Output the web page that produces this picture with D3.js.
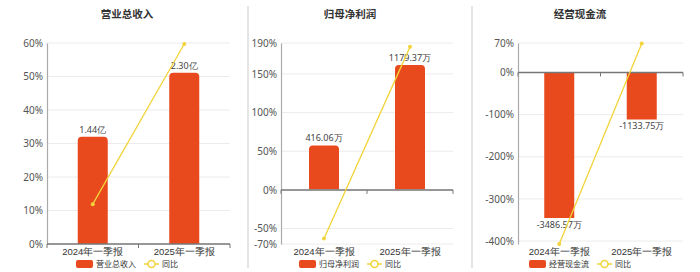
<!DOCTYPE html>
<html><head><meta charset="utf-8">
<script src="https://cdn.jsdelivr.net/npm/d3@7"></script>
<style>body{margin:0;background:#fff}svg{display:block;font-family:"Noto Sans CJK SC","Noto Sans",sans-serif}</style>
</head><body><svg id="c" width="700" height="272"></svg>
<script>
const categories = ["2024年一季报", "2025年一季报"];
const titles = ["营业总收入", "归母净利润", "经营现金流"];
const yoyName = "同比";

const revenueValues = [1.44, 2.30];
const revenueLabels = ["1.44亿", "2.30亿"];
const revenueYoY = [11.9, 59.7];
const revenueTicks = [0, 10, 20, 30, 40, 50, 60];

const profitValues = [416.06, 1179.37];
const profitLabels = ["416.06万", "1179.37万"];
const profitYoY = [-63, 185];
const profitTicks = [-70, -50, 0, 50, 100, 150, 190];

const cashValues = [-3486.57, -1133.75];
const cashLabels = ["-3486.57万", "-1133.75万"];
const cashYoY = [-407, 69];
const cashTicks = [-400, -300, -200, -100, 0, 70];

const BAR = "#E8491D", LINE = "#F2D43A";

const panels = [
  {title: titles[0], vals: revenueValues, labels: revenueLabels, yoy: revenueYoY, ticks: revenueTicks,
   yDom: [0, 60], bDom: [0, 2.70], x0: 47, x1: 230, cx: 127},
  {title: titles[1], vals: profitValues, labels: profitLabels, yoy: profitYoY, ticks: profitTicks,
   yDom: [-70, 190], bDom: [-519, 1387], x0: 281, x1: 453, cx: 350},
  {title: titles[2], vals: cashValues, labels: cashLabels, yoy: cashYoY, ticks: cashTicks,
   yDom: [-407, 70], bDom: [-4107, 692], x0: 518, x1: 683, cx: 580}
];
const plotTop = 43, plotBottom = 244;
const svg = d3.select("#c");

// separators
[248, 472].forEach(x => svg.append("line").attr("x1", x).attr("x2", x).attr("y1", 6).attr("y2", 268)
  .attr("stroke", "#ddd").attr("stroke-width", 1.5));

panels.forEach(p => {
  const g = svg.append("g");
  const y = d3.scaleLinear().domain(p.yDom).range([plotBottom, plotTop]);
  const yb = d3.scaleLinear().domain(p.bDom).range([plotBottom, plotTop]);
  const x = d3.scaleBand().domain(categories).range([p.x0, p.x1]);
  const bw = 30;

  g.append("text").attr("x", p.cx).attr("y", 18).attr("text-anchor", "middle")
    .attr("font-size", 10.5).attr("font-weight", "bold").attr("fill", "#333").text(p.title);

  // grid
  g.selectAll(".grid").data(p.ticks).enter().append("line")
    .attr("x1", p.x0).attr("x2", p.x1).attr("y1", d => y(d)).attr("y2", d => y(d))
    .attr("stroke", "#ececec").attr("stroke-width", 1);

  // y axis
  const ya = g.append("g").attr("transform", `translate(${p.x0},0)`)
    .call(d3.axisLeft(y).tickValues(p.ticks).tickSize(0).tickPadding(4).tickFormat(d => d + "%"));
  ya.select(".domain").attr("stroke", "#aaa").attr("stroke-width", 1.2);
  ya.selectAll("text").attr("font-size", 10).attr("fill", "#555").attr("font-family", "'Noto Sans',sans-serif");

  // bars
  const r = 4;
  p.vals.forEach((v, i) => {
    const xl = x(categories[i]) + (x.bandwidth() - bw) / 2;
    const y0 = yb(0), y1 = yb(v);
    let d;
    if (v >= 0) {
      d = `M${xl},${y0}V${y1 + r}Q${xl},${y1} ${xl + r},${y1}H${xl + bw - r}Q${xl + bw},${y1} ${xl + bw},${y1 + r}V${y0}Z`;
    } else {
      d = `M${xl},${y0}V${y1}H${xl + bw}V${y0}Z`;
    }
    g.append("path").attr("d", d).attr("fill", BAR);
    g.append("text").attr("x", xl + bw / 2).attr("y", v >= 0 ? y1 - 4 : y1 + 10)
      .attr("text-anchor", "middle").attr("font-size", 9).attr("fill", "#444")
      .attr("font-family", "'Noto Sans',sans-serif").text(p.labels[i]);
  });

  // x axis line at zero
  const y0 = y(Math.max(p.yDom[0], 0));
  g.append("line").attr("x1", p.x0).attr("x2", p.x1).attr("y1", y0).attr("y2", y0)
    .attr("stroke", "#777").attr("stroke-width", 1.5);
  const edges = [p.x0, p.x0 + x.step(), p.x1];
  g.selectAll(".tk").data(edges).enter().append("line")
    .attr("x1", d => d).attr("x2", d => d).attr("y1", y0).attr("y2", y0 + 4)
    .attr("stroke", "#777").attr("stroke-width", 1);
  const xa = g.append("g").attr("transform", `translate(0,${plotBottom})`)
    .call(d3.axisBottom(x).tickSize(0).tickPadding(4));
  xa.select(".domain").remove();
  xa.selectAll("text").attr("font-size", 9.5).attr("fill", "#333");

  // line
  const pts = p.yoy.map((v, i) => [x(categories[i]) + x.bandwidth() / 2, y(v)]);
  g.append("path").attr("d", d3.line()(pts)).attr("fill", "none").attr("stroke", LINE).attr("stroke-width", 1.3);
  g.selectAll(".pt").data(pts).enter().append("circle")
    .attr("cx", d => d[0]).attr("cy", d => d[1]).attr("r", 2).attr("fill", LINE);

  // legend
  const lg = g.append("g");
  const t1w = p.title.length * 8;
  const total = 17 + 3 + t1w + 8 + 15 + 3 + 16;
  let lx = p.cx - total / 2;
  const ly = 264;
  lg.append("rect").attr("x", lx).attr("y", ly - 4).attr("width", 17).attr("height", 8).attr("rx", 2).attr("fill", BAR);
  lg.append("text").attr("x", lx + 20).attr("y", ly + 3).attr("font-size", 8).attr("fill", "#333").text(p.title);
  lx += 20 + t1w + 8;
  lg.append("line").attr("x1", lx).attr("x2", lx + 15).attr("y1", ly).attr("y2", ly).attr("stroke", LINE).attr("stroke-width", 1.5);
  lg.append("circle").attr("cx", lx + 7.5).attr("cy", ly).attr("r", 3.5).attr("fill", "#fff").attr("stroke", LINE).attr("stroke-width", 1.5);
  lg.append("text").attr("x", lx + 18).attr("y", ly + 3).attr("font-size", 8).attr("fill", "#333").text(yoyName);
});
</script></body></html>
